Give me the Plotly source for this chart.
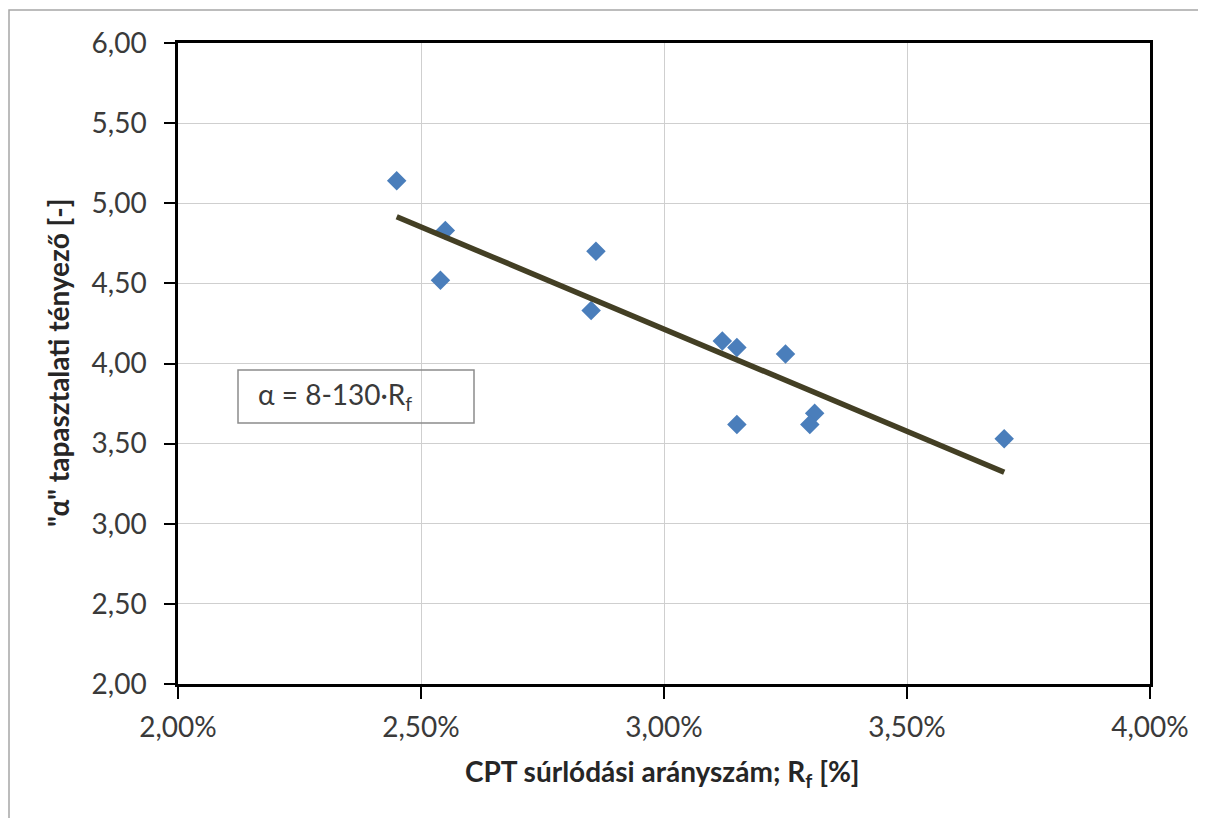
import numpy as np
import plotly.graph_objects as go

# ---- data ----
rf_values = [0.0245, 0.0255, 0.0254, 0.0286, 0.0285, 0.0312, 0.0315, 0.0325, 0.0315, 0.0331, 0.0330, 0.0370]
alpha_values = [5.14, 4.83, 4.52, 4.70, 4.33, 4.14, 4.10, 4.06, 3.62, 3.69, 3.62, 3.53]
x_ticks = [0.020, 0.025, 0.030, 0.035, 0.040]
y_ticks = [2.0, 2.5, 3.0, 3.5, 4.0, 4.5, 5.0, 5.5, 6.0]
x_title = "CPT súrlódási arányszám; R<sub>f</sub> [%]"
y_title = "\"α\" tapasztalati tényező [-]"
eq_text = "α = 8-130·R<sub>f</sub>"

# linear trendline (least squares) over the data range
slope, intercept = np.polyfit(rf_values, alpha_values, 1)
trend_x = [min(rf_values), max(rf_values)]
trend_y = [intercept + slope * v for v in trend_x]

OFF = 8  # page body margin
W, H = 1206 - OFF, 818 - OFF
# plot area in screen pixels
SL, SR, ST, SB = 178, 1150, 43, 684
pw, ph = SR - SL, SB - ST


def px(xs):
    return (xs - SL) / pw


def py(ys):
    return (SB - ys) / ph


FONT = "Lato"
fig = go.Figure()
fig.add_trace(go.Scatter(
    x=rf_values, y=alpha_values, mode="markers",
    marker=dict(symbol="diamond", size=15, color="#4a7ebb"),
    showlegend=False, cliponaxis=False))
fig.add_trace(go.Scatter(
    x=trend_x, y=trend_y, mode="lines",
    line=dict(color="#433f24", width=5.5),
    showlegend=False))

fig.update_layout(
    width=W, height=H,
    margin=dict(l=SL - OFF, r=W - (SR - OFF), t=ST - OFF, b=H - (SB - OFF), pad=0),
    paper_bgcolor="white", plot_bgcolor="white",
    separators=", ",
    font=dict(family=FONT, size=28, color="#404040"),
    xaxis=dict(range=[0.02, 0.04], tickvals=x_ticks, tickformat=".2%",
               showgrid=True, gridcolor="#cfcfcf", gridwidth=1,
               showline=True, linecolor="black", linewidth=2.5, mirror=True,
               ticks="outside", ticklen=12, tickwidth=2, tickcolor="black",
               ticklabelstandoff=5, zeroline=False,
               tickfont=dict(family=FONT, size=28, color="#3a3a3a")),
    yaxis=dict(range=[2, 6], tickvals=y_ticks, tickformat=".2f",
               showgrid=True, gridcolor="#cfcfcf", gridwidth=1,
               showline=True, linecolor="black", linewidth=2.5, mirror=True,
               ticks="outside", ticklen=11, tickwidth=2, tickcolor="black",
               ticklabelstandoff=12, zeroline=False,
               tickfont=dict(family=FONT, size=28, color="#3a3a3a")),
)

# axis titles
fig.add_annotation(text=x_title, xref="paper", yref="paper",
                   x=px(662), y=py(773), xanchor="center", yanchor="middle",
                   showarrow=False,
                   font=dict(family=FONT, size=28, color="#262626", weight="bold"))
fig.add_annotation(text=y_title, xref="paper", yref="paper",
                   x=px(58), y=py(363), xanchor="center", yanchor="middle",
                   textangle=-90, showarrow=False,
                   font=dict(family=FONT, size=28, color="#262626", weight="bold"))

# equation box
fig.add_shape(type="rect", xref="paper", yref="paper",
              x0=px(238), x1=px(474), y0=py(423), y1=py(370),
              line=dict(color="#8c8c8c", width=1.5), fillcolor="rgba(0,0,0,0)")
fig.add_annotation(text=eq_text, xref="paper", yref="paper",
                   x=px(256), y=py(396), xanchor="left", yanchor="middle",
                   showarrow=False,
                   font=dict(family=FONT, size=28, color="#3a3a3a"))

# outer chart border
fig.add_shape(type="rect", xref="paper", yref="paper",
              x0=px(9), x1=px(1230), y0=py(840), y1=py(10),
              line=dict(color="#a6a6a6", width=1.5), layer="below")

fig.write_html("out.html")
